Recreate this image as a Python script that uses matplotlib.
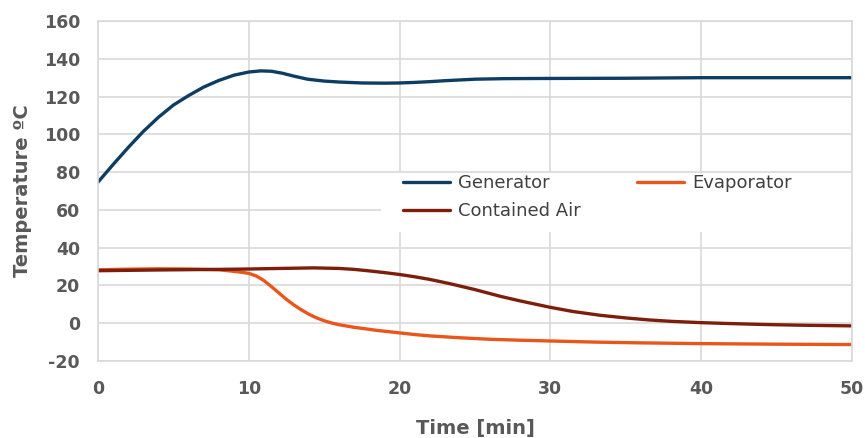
import matplotlib.pyplot as plt
from matplotlib.patches import Rectangle

plt.rcParams['axes.unicode_minus'] = False

# vrednosti odčitane z grafa
cas_gen = [0, 1, 2, 3, 4, 5, 6, 7, 8, 9, 10, 10.8, 11.5, 12.2, 13, 13.9, 15, 16, 17.5, 19, 20, 21, 22, 23, 24, 25, 27, 30, 35, 40, 45, 50]
generator = [74.7, 84, 93, 101.5, 109, 115.5, 120.5, 125, 128.5, 131.3, 133, 133.6, 133.4, 132.4, 130.8, 129.2, 128.2, 127.7, 127.2, 127.1, 127.2, 127.5, 127.9, 128.4, 128.8, 129.2, 129.5, 129.6, 129.7, 130, 130, 130]

cas_evap = [0, 2, 4, 6, 8, 8.75, 9.5, 10, 10.5, 11, 11.5, 12, 12.5, 13, 13.5, 14, 14.5, 15, 15.5, 16, 16.5, 17, 17.6, 18.5, 20, 21, 22, 24, 26, 28, 30, 33, 36, 40, 45, 50]
evaporator = [28.3, 28.6, 28.8, 28.7, 28.3, 27.7, 27, 26.4, 25, 22.6, 19.4, 16, 12.6, 9.6, 7, 4.7, 2.8, 1.3, 0.1, -0.8, -1.5, -2.2, -2.8, -3.8, -5.1, -6, -6.7, -7.7, -8.5, -9, -9.4, -10, -10.4, -10.8, -11.1, -11.3]

cas_zrak = [0, 4, 8, 10, 12, 14.3, 16, 17, 18, 19, 20, 21, 22, 23.3, 25, 26.7, 28, 30, 31.5, 33.3, 35, 36.6, 38, 40, 42, 44.3, 47, 50]
zrak = [27.8, 28.2, 28.5, 28.7, 29, 29.3, 29, 28.5, 27.7, 26.8, 25.8, 24.6, 23.2, 21, 17.8, 14.2, 11.8, 8.4, 6.2, 4.2, 2.8, 1.7, 1, 0.3, -0.2, -0.7, -1.1, -1.4]

siva = '#595959'

fig = plt.figure(figsize=(8.65, 4.38), dpi=100)
ax = fig.add_axes([0.1133, 0.1758, 0.8717, 0.7762])

l_gen, = ax.plot(cas_gen, generator, color='#0E3D63', lw=2.4, label='Generator', solid_capstyle='round')
l_evap, = ax.plot(cas_evap, evaporator, color='#E9561B', lw=2.4, label='Evaporator', solid_capstyle='round')
l_zrak, = ax.plot(cas_zrak, zrak, color='#7C1E0B', lw=2.4, label='Contained Air', solid_capstyle='round')

ax.set_xlim(0, 50)
ax.set_ylim(-20, 160)
ax.set_xticks(range(0, 51, 10))
ax.set_yticks(range(-20, 161, 20))
ax.grid(True, color='#D9D9D9', lw=1.2)
ax.set_axisbelow(True)
for s in ax.spines.values():
    s.set_color('#D9D9D9')
    s.set_linewidth(1.2)
ax.tick_params(length=0, labelsize=12.5, labelcolor=siva, pad=14)
for t in ax.get_xticklabels() + ax.get_yticklabels():
    t.set_fontweight('bold')
ax.tick_params(axis='y', pad=13)

ax.set_xlabel('Time [min]', fontsize=14, fontweight='bold', color=siva, labelpad=15)
ax.set_ylabel('Temperature ºC', fontsize=14, fontweight='bold', color=siva, labelpad=8)

# belo ozadje legende
ax.add_patch(Rectangle((0.375, 0.379), 0.625, 0.174, transform=ax.transAxes,
                       facecolor='white', edgecolor='none', zorder=1.5))
leg = ax.legend(handles=[l_gen, l_zrak, l_evap], ncol=2, loc='upper left',
                bbox_to_anchor=(0.4045, 0.55), frameon=False, fontsize=13,
                borderpad=0, borderaxespad=0, handlelength=2.6, handletextpad=0.45,
                labelspacing=0.55, columnspacing=3.1)
for t in leg.get_texts():
    t.set_color('#404040')

fig.savefig('out.png', dpi=100)
